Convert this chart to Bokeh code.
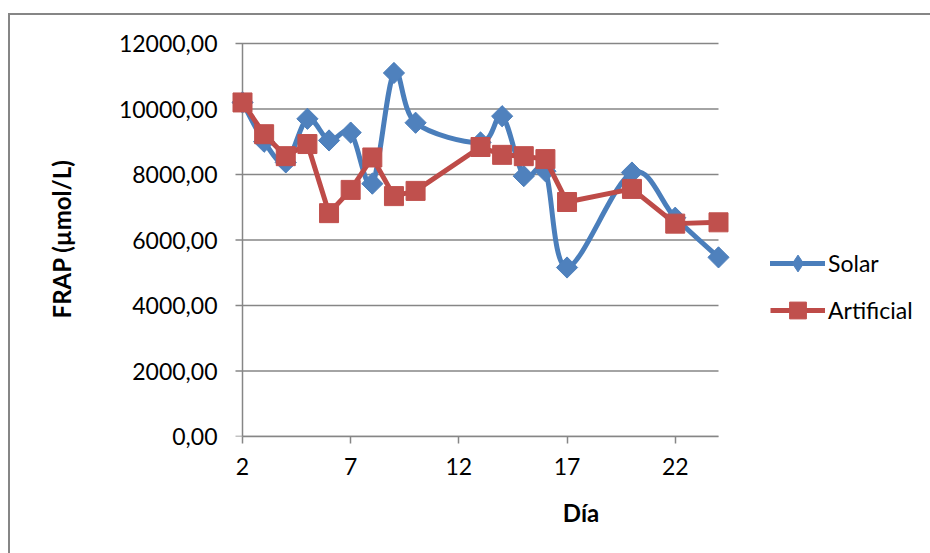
from bokeh.plotting import figure
from bokeh.models import (FixedTicker, CustomJSTickFormatter, Legend, LegendItem, Range1d)
from bokeh.embed import file_html
from bokeh.resources import INLINE

# ---- data ----
days = [2, 3, 4, 5, 6, 7, 8, 9, 10, 13, 14, 15, 16, 17, 20, 22, 24]
solar = [10200, 9000, 8370, 9700, 9040, 9280, 7720, 11100, 9580, 8980, 9780, 7950, 8100, 5160, 8060, 6680, 5470]
artificial = [10200, 9230, 8560, 8930, 6820, 7530, 8520, 7340, 7500, 8840, 8600, 8560, 8470, 7160, 7560, 6500, 6540]
x_ticks = [2, 7, 12, 17, 22]
y_ticks = [0, 2000, 4000, 6000, 8000, 10000, 12000]
series_names = ["Solar", "Artificial"]

BLUE = "#4A7EBB"
BLUE_M = "#4F81BD"
RED = "#BE4B48"
RED_M = "#C0504D"
GRID = "#868686"
FONT = "Lato"

W, H = 930, 553
AX_L, AX_R = 242, 718            # pixel span of the category axis (first .. last day)
FRAME_L, FRAME_T, FRAME_B = 231, 41, 436
x_min, x_max = days[0], days[-1]
px_per_x = (AX_R - AX_L) / (x_max - x_min)
x_start = x_min - (AX_L - FRAME_L) / px_per_x
x_end = x_start + (W - FRAME_L) / px_per_x
tick_len = 7.0 / px_per_x                   # 7px tick marks, in data units
y_top = y_ticks[-1] * (FRAME_B - FRAME_T) / (FRAME_B - FRAME_T - 2)

p = figure(width=W, height=H, output_backend="svg", toolbar_location=None,
           x_range=Range1d(x_start, x_end), y_range=Range1d(y_ticks[0], y_top),
           min_border_left=FRAME_L, min_border_right=0,
           min_border_top=FRAME_T, min_border_bottom=H - FRAME_B)
p.outline_line_color = None
p.background_fill_color = None
p.border_fill_color = None
p.xgrid.visible = False
p.ygrid.visible = False
p.styles = {
    "background-color": "white",
    "background-image": "linear-gradient(#868686, #868686), linear-gradient(#868686, #868686)",
    "background-repeat": "no-repeat",
    "background-size": "2px 100%, 100% 2px",
    "background-position": "8px 13px, 8px 13px",
}

# gridlines (with their outward tick marks) and the value-axis line at the first day
p.segment(x0=[x_min - tick_len] * len(y_ticks), x1=[x_max] * len(y_ticks), y0=y_ticks, y1=y_ticks,
          line_color=GRID, line_width=1.5)
p.segment(x0=[x_min], x1=[x_min], y0=[y_ticks[0]], y1=[y_ticks[-1]],
          line_color=GRID, line_width=1.5)

# smoothed Solar line (Catmull-Rom -> cubic Bezier)
n = len(days)
x0s, y0s, x1s, y1s, cx0, cy0, cx1, cy1 = [], [], [], [], [], [], [], []
for i in range(n - 1):
    pm = i - 1 if i > 0 else i
    pp = i + 2 if i + 2 < n else i + 1
    x0s.append(days[i]); y0s.append(solar[i])
    x1s.append(days[i + 1]); y1s.append(solar[i + 1])
    cx0.append(days[i] + (days[i + 1] - days[pm]) / 6.0)
    cy0.append(solar[i] + (solar[i + 1] - solar[pm]) / 6.0)
    cx1.append(days[i + 1] - (days[pp] - days[i]) / 6.0)
    cy1.append(solar[i + 1] - (solar[pp] - solar[i]) / 6.0)
sol_l = p.bezier(x0=x0s, y0=y0s, x1=x1s, y1=y1s, cx0=cx0, cy0=cy0, cx1=cx1, cy1=cy1,
                 line_color=BLUE, line_width=5, line_cap="round", line_join="round")
# diamond marker (gives the legend swatch); covered by the square-diamond markers below
sol_leg_m = p.scatter(x=days, y=solar, marker="diamond", size=20,
                      fill_color=BLUE_M, line_color=BLUE_M)
sol_m = p.scatter(x=days, y=solar, marker="square", size=15, angle=0.785398,
                  fill_color=BLUE_M, line_color=BLUE_M)

art_l = p.line(x=days, y=artificial, line_color=RED, line_width=5, line_join="round")
art_m = p.scatter(x=days, y=artificial, marker="square", size=19,
                  fill_color=RED_M, line_color=RED_M)

legend = Legend(items=[LegendItem(label=series_names[0], renderers=[sol_l, sol_leg_m]),
                       LegendItem(label=series_names[1], renderers=[art_l, art_m])],
                location=(770 - FRAME_L, FRAME_B - 331), orientation="vertical",
                glyph_width=55, glyph_height=42, label_height=20, spacing=5,
                label_standoff=3, padding=0, margin=0, border_line_color=None,
                background_fill_alpha=0, label_text_font=FONT, label_text_font_size="23px",
                label_text_color="black")
p.add_layout(legend, "center")

# axes
for ax in (p.xaxis[0], p.yaxis[0]):
    ax.axis_line_color = GRID
    ax.axis_line_width = 1.5
    ax.major_tick_line_color = GRID
    ax.major_tick_line_width = 1.5
    ax.major_tick_out = 7
    ax.major_tick_in = 0
    ax.minor_tick_line_color = None
    ax.major_label_text_font = FONT
    ax.major_label_text_font_size = "23px"
    ax.major_label_text_color = "black"
    ax.axis_label_text_font = FONT
    ax.axis_label_text_font_style = "bold"
    ax.axis_label_text_font_size = "24px"
    ax.axis_label_text_color = "black"

p.xaxis.ticker = FixedTicker(ticks=x_ticks)
p.xaxis.bounds = (x_min, x_max)
p.xaxis.axis_label = "Día"
p.xaxis.major_label_standoff = 14
p.xaxis.axis_label_standoff = 20

p.yaxis.ticker = FixedTicker(ticks=y_ticks)
p.yaxis.axis_line_color = None
p.yaxis.major_tick_line_color = None
p.yaxis.major_tick_out = 0
p.yaxis.formatter = CustomJSTickFormatter(code="return tick.toFixed(2).replace('.', ',');")
p.yaxis.axis_label = "FRAP (µmol/L)"
p.yaxis.major_label_standoff = 14
p.yaxis.axis_label_standoff = 40

open("out.html", "w").write(file_html(p, INLINE))
